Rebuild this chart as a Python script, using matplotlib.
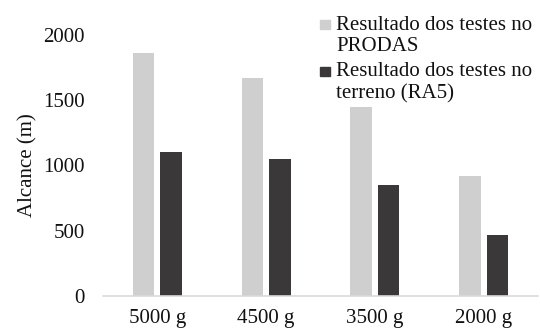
import matplotlib.pyplot as plt
import matplotlib.patches as mpatches
import numpy as np

plt.rcParams['font.family'] = ['Liberation Serif', 'DejaVu Serif']

categorias = ['5000 g', '4500 g', '3500 g', '2000 g']
prodas = [1860, 1670, 1450, 920]
terreno = [1100, 1050, 850, 470]
series = ['Resultado dos testes no\nPRODAS', 'Resultado dos testes no\nterreno (RA5)']
cores = ['#d0cfcf', '#3a3838']

fs = 15
txtcor = '#111111'

fig = plt.figure(figsize=(5.4, 3.32), dpi=100)
ax = fig.add_axes([103/540, 1-296/332, 435/540, 261/332])

x = np.arange(len(categorias))
w = 0.198
ax.bar(x - 0.126, prodas, w, color=cores[0])
ax.bar(x + 0.126, terreno, w, color=cores[1])

ax.set_xlim(-0.5, 3.5)
ax.set_ylim(0, 2000)
ax.set_yticks([0, 500, 1000, 1500, 2000])
ax.set_xticks(x)
ax.set_xticklabels(categorias)
ax.tick_params(axis='both', length=0, labelsize=fs, colors=txtcor)
ax.tick_params(axis='y', pad=13)
ax.tick_params(axis='x', pad=9)
for s in ['top', 'right', 'left']:
    ax.spines[s].set_visible(False)
ax.spines['bottom'].set_color('#d9d9d9')
ax.spines['bottom'].set_linewidth(1.2)
ax.set_ylabel('Alcance (m)', fontsize=fs, color=txtcor, labelpad=4)

# legenda desenhada a mao (quadrado alinhado com a primeira linha)
ys = [24, 71]
for cor, txt, yy in zip(cores, series, ys):
    fig.patches.append(mpatches.Rectangle((320/540, 1-(yy+4.5)/332), 10/540, 9/332,
                                          transform=fig.transFigure, color=cor))
    fig.text(336/540, 1-(yy+12)/332, txt, fontsize=fs, va='center', ha='left',
             color=txtcor, linespacing=1.2)

fig.savefig('out.png', dpi=100)
